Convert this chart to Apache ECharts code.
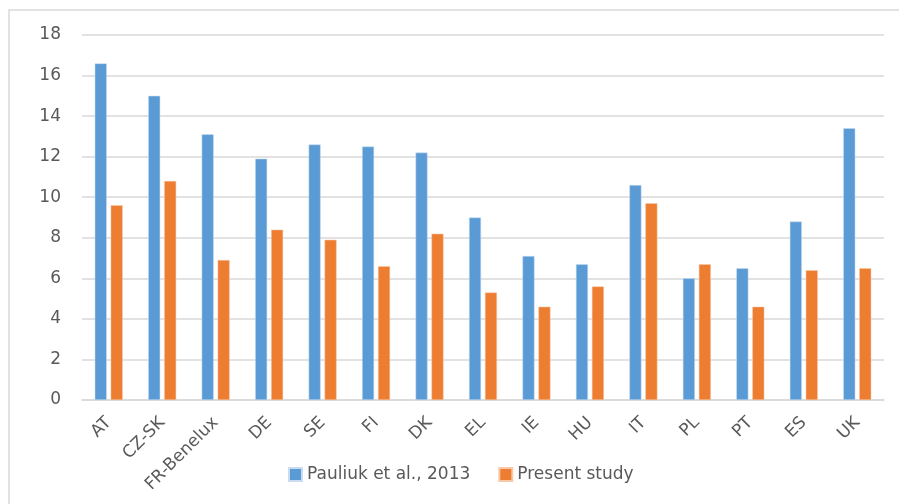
<!DOCTYPE html>
<html><head><meta charset="utf-8">
<script src="https://cdn.jsdelivr.net/npm/echarts@6/dist/echarts.min.js"></script>
<style>html,body{margin:0;padding:0;background:#fff}#c{width:899px;height:504px}</style>
</head><body><div id="c"></div>
<script>
const categories = ["AT","CZ-SK","FR-Benelux","DE","SE","FI","DK","EL","IE","HU","IT","PL","PT","ES","UK"];
const pauliuk = [16.6,15.0,13.1,11.9,12.6,12.5,12.2,9.0,7.1,6.7,10.6,6.0,6.5,8.8,13.4];
const present = [9.6,10.8,6.9,8.4,7.9,6.6,8.2,5.3,4.6,5.6,9.7,6.7,4.6,6.4,6.5];
const seriesNames = ["Pauliuk et al., 2013","Present study"];

const chart = echarts.init(document.getElementById('c'));
const font = "'DejaVu Sans', sans-serif";
chart.setOption({
  animation:false,
  textStyle:{fontFamily:font},
  graphic:[{type:'rect',shape:{x:9,y:10,width:900,height:500},style:{fill:'none',stroke:'#d9d9d9',lineWidth:1.5},silent:true}],
  grid:{left:82,right:15,top:35,bottom:104},
  legend:{top:461,left:283,itemWidth:13,itemHeight:13,itemGap:28,icon:'rect',
    textStyle:{color:'#595959',fontSize:17,fontFamily:font},data:seriesNames},
  xAxis:{type:'category',data:categories,
    axisLine:{lineStyle:{color:'#d9d9d9',width:1.5}},axisTick:{show:false},
    axisLabel:{rotate:45,color:'#595959',fontSize:17,fontFamily:font,margin:20,interval:0}},
  yAxis:{type:'value',min:0,max:18,interval:2,
    axisLine:{show:false},axisTick:{show:false},
    splitLine:{lineStyle:{color:'#d9d9d9',width:1.5}},
    axisLabel:{color:'#595959',fontSize:17,fontFamily:font,margin:21}},
  series:[
    {name:seriesNames[0],type:'bar',data:pauliuk,barWidth:12,barGap:'33%',
      itemStyle:{color:'#5B9BD5',borderColor:'#c9dcf0',borderWidth:0.5}},
    {name:seriesNames[1],type:'bar',data:present,barWidth:12,barGap:'33%',
      itemStyle:{color:'#ED7D31',borderColor:'#f7c9a8',borderWidth:0.5}}
  ]
});
</script></body></html>
